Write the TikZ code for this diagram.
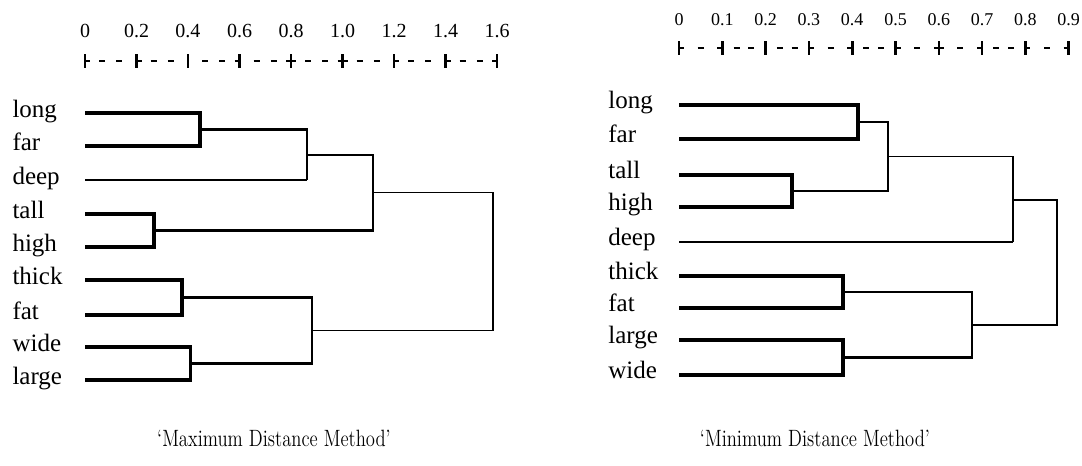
\documentclass[tikz,border=0pt]{standalone}
\usepackage{fontspec}
\newfontfamily\wordfont{Liberation Serif}

\tikzset{
  word/.style={font=\wordfont\fontsize{12.5}{14}\selectfont, anchor=base west, inner sep=0pt},
  scalenum/.style={font=\wordfont\fontsize{10}{12}\selectfont, inner sep=0pt},
  pairline/.style={line width=1.8pt},
  joinline/.style={line width=1.2pt},
  rootline/.style={line width=0.65pt},
  tickmark/.style={line width=1.3pt},
  rulebit/.style={line width=1pt},
  caption/.style={font=\fontsize{11.8}{14}\selectfont, inner sep=0pt, xscale=0.79, transform shape},
}

\begin{document}
\begin{tikzpicture}[x=0.5pt,y=-0.5pt]
\useasboundingbox (0,0) rectangle (1082,466);

% maximum distance tree, one x unit = distance 1
\begin{scope}[xshift=42.5pt,x=128.75pt]
\foreach \v/\l/\r [count=\i] in {0/0/2.5, 0.2/0/2.5, 0.4/0/0, 0.6/2.5/0, 0.8/2.5/2.5,
    1.0/2.5/2.5, 1.2/0/2.5, 1.4/0/2.5, 1.6/2.5/0} {
  \draw[tickmark] (\v,54) -- (\v,68);
  \draw[rulebit] ([xshift=-\l pt]\v,61) -- ([xshift=\r pt]\v,61);
  \node[scalenum] (a-num\i) at (\v,31) {\v};
}
\foreach \k in {0,...,7} {
  \draw[rulebit] ({0.2*\k+0.0667},61) ++(-1.5pt,0) -- ++(3pt,0);
  \draw[rulebit] ({0.2*\k+0.1333},61) ++(-1.5pt,0) -- ++(3pt,0);
}

\foreach \w/\y in {long/113, far/146, deep/180, tall/214, high/247,
    thick/280, fat/315, wide/347, large/380} {
  \coordinate (a-\w) at (0,\y);
  \node[word] (a-\w-t) at (-0.283,\y+4) {\w};
}

\coordinate (a-lf) at (0.447,129.5);
\coordinate (a-th) at (0.268,230.5);
\coordinate (a-tf) at (0.377,297.5);
\coordinate (a-wl) at (0.41,363.5);
\coordinate (a-lfd) at (0.862,155);
\coordinate (a-up) at (1.118,192.75);
\coordinate (a-dn) at (0.882,330.5);
\coordinate (a-root) at (1.584,261.6);

\draw[pairline] (a-long) -| (a-lf) |- (a-far);
\draw[pairline] (a-tall) -| (a-th) |- (a-high);
\draw[pairline] (a-thick) -| (a-tf) |- (a-fat);
\draw[pairline] (a-wide) -| (a-wl) |- (a-large);
\draw[rootline] (a-deep) -- (a-deep -| a-lfd);
\draw[joinline] (a-lf) -| (a-deep -| a-lfd);
\draw[joinline] (a-lfd) -| (a-up) |- (a-th);
\draw[joinline] (a-tf) -| (a-dn) |- (a-wl);
\draw[rootline] (a-up) -| (a-root) |- (a-dn);
\end{scope}

% minimum distance tree
\begin{scope}[xshift=339.5pt,x=216.5pt]
\foreach \v/\l/\r [count=\i] in {0/0/2.5, 0.1/2.5/0, 0.2/0/0, 0.3/0/2.5, 0.4/2.5/0,
    0.5/0/2.5, 0.6/2.5/2.5, 0.7/2.5/0, 0.8/0/2.5, 0.9/2.5/0} {
  \draw[tickmark] (\v,41) -- (\v,55);
  \draw[rulebit] ([xshift=-\l pt]\v,48) -- ([xshift=\r pt]\v,48);
  \node[scalenum, font=\wordfont\fontsize{9}{11}\selectfont] (b-num\i) at (\v,20) {\v};
}
\foreach \d in {0.05, 0.133, 0.167, 0.233, 0.267, 0.35, 0.433, 0.467,
    0.55, 0.65, 0.733, 0.767, 0.85}
  \draw[rulebit] (\d,48) ++(-1.5pt,0) -- ++(3pt,0);

\foreach \w/\y in {long/105, far/139, tall/175, high/207, deep/242,
    thick/276, fat/308, large/340, wide/375} {
  \coordinate (b-\w) at (0,\y);
  \node[word] (b-\w-t) at (-0.164,\y+3) {\w};
}

\coordinate (b-lf) at (0.413,122);
\coordinate (b-th) at (0.261,191);
\coordinate (b-lt) at (0.483,156.5);
\coordinate (b-ltd) at (0.771,200);
\coordinate (b-tf) at (0.379,292);
\coordinate (b-lw) at (0.379,357.5);
\coordinate (b-tl) at (0.677,325);
\coordinate (b-root) at (0.873,262);

\draw[pairline] (b-long) -| (b-lf) |- (b-far);
\draw[pairline] (b-tall) -| (b-th) |- (b-high);
\draw[pairline] (b-thick) -| (b-tf) |- (b-fat);
\draw[pairline] (b-large) -| (b-lw) |- (b-wide);
\draw[joinline] (b-lf) -| (b-lt) |- (b-th);
\draw[rootline] (b-deep) -- (b-deep -| b-ltd);
\draw[rootline] (b-lt) -| (b-deep -| b-ltd);
\draw[joinline] (b-tf) -| (b-tl) |- (b-lw);
\draw[rootline] (b-ltd) -| (b-root) |- (b-tl);
\end{scope}

\node[caption] (a-cap) at (274,438) {`Maximum Distance Method'};
\node[caption] (b-cap) at (815,438) {`Minimum Distance Method'};
\end{tikzpicture}
\end{document}
